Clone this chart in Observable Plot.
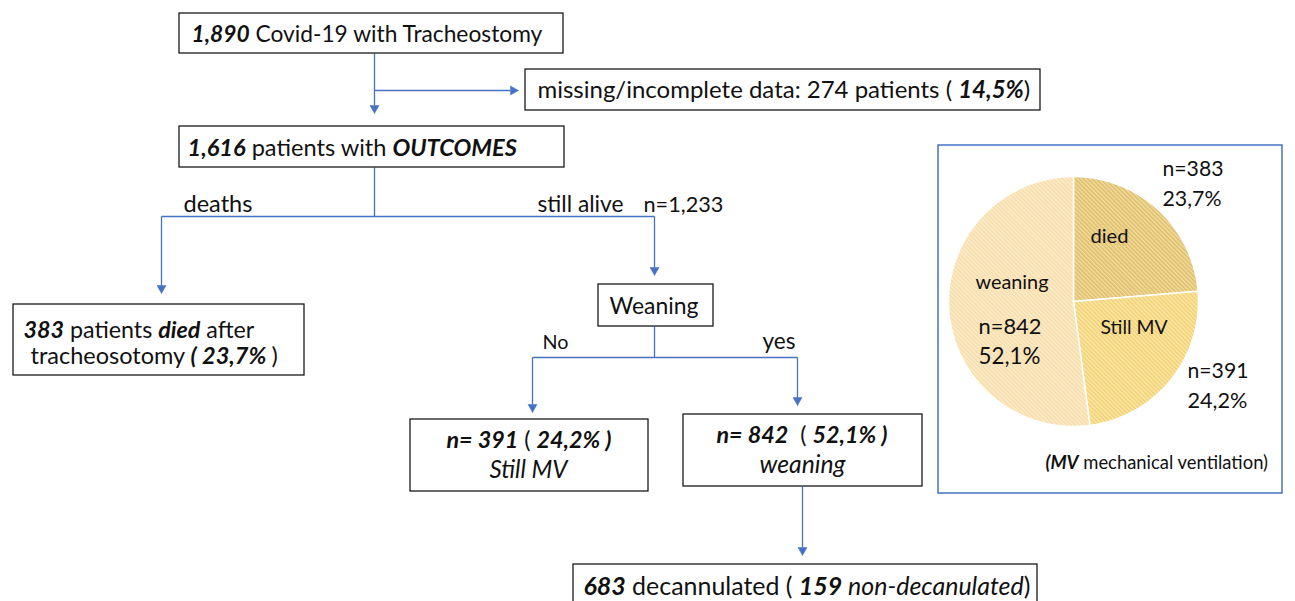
<!DOCTYPE html>
<html><head><meta charset="utf-8">
<script src="https://cdn.jsdelivr.net/npm/d3@7"></script>
<script src="https://cdn.jsdelivr.net/npm/@observablehq/plot@0.6"></script>
<style>html,body{margin:0;background:#fff}#chart svg{display:block}</style>
</head><body><div id="chart"></div>
<script>
// ---------------- DATA ----------------
const totalPatients = 1890;
const missingPatients = 274;
const missingPct = "14,5%";
const outcomePatients = 1616;
const deaths = 383;
const deathsPct = "23,7%";
const alivePatients = 1233;
const stillMV = 391;
const stillMVPct = "24,2%";
const weaned = 842;
const weanedPct = "52,1%";
const decannulated = 683;
const nonDecannulated = 159;

const pieCategories = ["died", "Still MV", "weaning"];
const pieValues = [deaths, stillMV, weaned];
const piePercents = [deathsPct, stillMVPct, weanedPct];

// ---------------- LAYOUT / STYLE ----------------
const W = 1295, H = 601;
const FONT = "Lato";
const BLUE = "#4472C4";
const pieColors = ["#e4c980", "#f6da88", "#fae5bd"];
const pieHatch = [["#f2dca0", "#dcbc66"], ["#fce8ae", "#f1cf6c"], ["#fdecca", "#f6dcaa"]];
const pie = {cx: 1073, cy: 301, r: 125};

const fmt = d3.format(",");

// text content (segments: [text, style]; b = bold, i = italic)
const textContent = {
  b1: [[fmt(totalPatients), "bi"], [" Covid-19 with Tracheostomy", ""]],
  b2: [[`missing/incomplete data: ${missingPatients} patients ( `, ""], [missingPct, "bi"], [")", ""]],
  b3: [[fmt(outcomePatients), "bi"], [" patients with ", ""], ["OUTCOMES", "bi"]],
  deaths: [["deaths", ""]],
  alive: [["still alive", ""]],
  aliveN: [[`n=${fmt(alivePatients)}`, ""]],
  b4a: [[String(deaths), "bi"], [" patients ", ""], ["died", "bi"], [" after", ""]],
  b4b: [["tracheosotomy ", ""], [`( ${deathsPct} `, "bi"], [")", ""]],
  weaning: [["Weaning", ""]],
  no: [["No", ""]],
  yes: [["yes", ""]],
  b5a: [[`n= ${stillMV}`, "bi"], [" ( ", ""], [`${stillMVPct} )`, "bi"]],
  b5b: [["Still MV", "i"]],
  b6a: [[`n= ${weaned}`, "bi"], ["  ( ", ""], [`${weanedPct} )`, "bi"]],
  b6b: [["weaning", "i"]],
  b7: [[String(decannulated), "bi"], [" decannulated ( ", ""], [String(nonDecannulated), "bi"], [" non-decanulated", "i"], [")", ""]],
  p0n: [[`n=${pieValues[0]}`, ""]], p0p: [[piePercents[0], ""]], p0c: [[pieCategories[0], ""]],
  p1n: [[`n=${pieValues[1]}`, ""]], p1p: [[piePercents[1], ""]], p1c: [[pieCategories[1], ""]],
  p2n: [[`n=${pieValues[2]}`, ""]], p2p: [[piePercents[2], ""]], p2c: [[pieCategories[2], ""]],
  cap: [["(MV", "bi"], [" mechanical ventilation)", ""]]
};
// [left x, baseline y, target width]
const textLayout = {
  b1: [191, 41, 352], b2: [537, 97, 493], b3: [187, 155, 330],
  deaths: [183, 211, 69], alive: [537, 211, 86], aliveN: [643, 211, 80],
  b4a: [23, 337, 231], b4b: [30, 363, 248],
  weaning: [609, 313, 89], no: [542, 348, 26], yes: [762, 348, 33],
  b5a: [446, 447, 165], b5b: [489, 477, 78],
  b6a: [716, 442, 171], b6b: [759, 472, 86],
  b7: [583, 594, 447],
  p0n: [1162, 175, 61], p0p: [1162, 205, 59], p0c: [1090, 242, 38],
  p1n: [1187, 377, 61], p1p: [1187, 407, 60], p1c: [1100, 333, 67],
  p2n: [978, 333, 63], p2p: [978, 363, 62], p2c: [975, 288, 73],
  cap: [1045, 468, 223]
};

const boxes = [
  {x1: 179, y1: 13, x2: 563, y2: 53},
  {x1: 525, y1: 69, x2: 1040, y2: 110},
  {x1: 179, y1: 126, x2: 564, y2: 167},
  {x1: 13, y1: 304, x2: 304, y2: 375},
  {x1: 598, y1: 284, x2: 713, y2: 326},
  {x1: 410, y1: 419, x2: 648, y2: 491},
  {x1: 683, y1: 414, x2: 922, y2: 486},
  {x1: 573, y1: 564, x2: 1037, y2: 612}
];
const frame = [{x1: 938, y1: 145, x2: 1282, y2: 493}];

const connectors = [
  {x1: 374, y1: 53, x2: 374, y2: 113, arrow: true},
  {x1: 374, y1: 90, x2: 518, y2: 90, arrow: true},
  {x1: 374, y1: 167, x2: 374, y2: 216, arrow: false},
  {x1: 161, y1: 216, x2: 654, y2: 216, arrow: false},
  {x1: 161, y1: 216, x2: 161, y2: 293, arrow: true},
  {x1: 654, y1: 216, x2: 654, y2: 275, arrow: true},
  {x1: 654, y1: 326, x2: 654, y2: 357, arrow: false},
  {x1: 532, y1: 357, x2: 797, y2: 357, arrow: false},
  {x1: 532, y1: 357, x2: 532, y2: 412, arrow: true},
  {x1: 797, y1: 357, x2: 797, y2: 405, arrow: true},
  {x1: 802, y1: 486, x2: 802, y2: 555, arrow: true}
];

// ---------------- DERIVED ----------------
const ctx = document.createElement("canvas").getContext("2d");
const segFont = (s, size) => `${s.includes("i") ? "italic " : ""}${s.includes("b") ? "bold " : ""}${size}px ${FONT}`;
const measure = (segs, size) => d3.sum(segs, ([t, s]) => { ctx.font = segFont(s, size); return ctx.measureText(t).width; });

const labels = Object.keys(textContent).map(id => {
  const segs = textContent[id];
  const [x, y, w] = textLayout[id];
  const size = 20 * w / measure(segs, 20);
  return {id, segs, x, y, size, text: segs.map(d => d[0]).join("")};
});

// pie slices as polygons from the data values (clockwise from 12 o'clock)
const total = d3.sum(pieValues);
const slices = [];
let acc = 0;
pieValues.forEach((v, i) => {
  const a0 = acc / total * 2 * Math.PI, a1 = (acc + v) / total * 2 * Math.PI;
  acc += v;
  const pts = [{x: pie.cx, y: pie.cy}];
  const n = Math.ceil((a1 - a0) / (Math.PI / 180));
  for (let k = 0; k <= n; k++) {
    const a = a0 + (a1 - a0) * k / n;
    pts.push({x: pie.cx + pie.r * Math.sin(a), y: pie.cy - pie.r * Math.cos(a)});
  }
  pts.push({x: pie.cx, y: pie.cy});
  slices.push(pts);
});

// arrow heads
const HEAD_L = 8, HEAD_W = 4.5;
const lines = connectors.map(c => {
  if (!c.arrow) return c;
  const dx = c.x2 - c.x1, dy = c.y2 - c.y1, L = Math.hypot(dx, dy);
  return {...c, x2: c.x2 - dx / L * HEAD_L, y2: c.y2 - dy / L * HEAD_L};
});
const heads = [];
connectors.filter(c => c.arrow).forEach((c, j) => {
  const dx = c.x2 - c.x1, dy = c.y2 - c.y1, L = Math.hypot(dx, dy);
  const ux = dx / L, uy = dy / L, bx = c.x2 - ux * HEAD_L, by = c.y2 - uy * HEAD_L;
  heads.push({id: j, x: c.x2, y: c.y2});
  heads.push({id: j, x: bx - uy * HEAD_W, y: by + ux * HEAD_W});
  heads.push({id: j, x: bx + uy * HEAD_W, y: by - ux * HEAD_W});
  heads.push({id: j, x: c.x2, y: c.y2});
});

// ---------------- PLOT ----------------
const chart = Plot.plot({
  width: W, height: H,
  margin: 0,
  x: {domain: [0, W], range: [0, W], axis: null},
  y: {domain: [0, H], range: [0, H], axis: null},
  style: {fontFamily: FONT, background: "white"},
  marks: [
    ...slices.map((pts, i) => Plot.line(pts, {x: "x", y: "y", fill: pieColors[i], stroke: "white", strokeWidth: 1.5, curve: "linear"})),
    Plot.rect(frame, {x1: "x1", y1: "y1", x2: "x2", y2: "y2", fill: "none", stroke: BLUE, strokeWidth: 1.5}),
    Plot.link(lines, {x1: "x1", y1: "y1", x2: "x2", y2: "y2", stroke: BLUE, strokeWidth: 1.3}),
    Plot.line(heads, {x: "x", y: "y", z: "id", fill: BLUE, stroke: BLUE, strokeWidth: 0.5}),
    Plot.rect(boxes, {x1: "x1", y1: "y1", x2: "x2", y2: "y2", fill: "white", stroke: "#1a1a1a", strokeWidth: 1.3}),
    Plot.text(labels, {x: "x", y: "y", text: "text", fontSize: "size", textAnchor: "start", lineAnchor: "bottom", fill: "#111", fontFamily: FONT})
  ]
});

// hatch patterns for pie slices
const NS = "http://www.w3.org/2000/svg";
const defs = document.createElementNS(NS, "defs");
pieHatch.forEach(([bg, fg], i) => {
  const p = document.createElementNS(NS, "pattern");
  p.setAttribute("id", "hatch" + i);
  p.setAttribute("patternUnits", "userSpaceOnUse");
  p.setAttribute("width", "3");
  p.setAttribute("height", "3");
  p.setAttribute("patternTransform", "rotate(-45)");
  const r = document.createElementNS(NS, "rect");
  r.setAttribute("width", "3"); r.setAttribute("height", "3"); r.setAttribute("fill", bg);
  const l = document.createElementNS(NS, "rect");
  l.setAttribute("width", "1.5"); l.setAttribute("height", "3"); l.setAttribute("fill", fg);
  p.appendChild(r); p.appendChild(l);
  defs.appendChild(p);
});
chart.insertBefore(defs, chart.firstChild);
pieColors.forEach((c, i) => {
  chart.querySelectorAll(`g[fill="${c}"]`).forEach(g => {
    g.setAttribute("fill", `url(#hatch${i})`);
    g.querySelectorAll("path").forEach(p => { if (p.getAttribute("fill")) p.setAttribute("fill", `url(#hatch${i})`); });
  });
});

// rich text: rebuild each label with styled tspans
const textEls = chart.querySelectorAll('g[aria-label="text"] text');
textEls.forEach((el, i) => {
  const d = labels[i];
  el.textContent = "";
  el.setAttribute("xml:space", "preserve");
  el.style.whiteSpace = "pre";
  d.segs.forEach(([t, s]) => {
    const ts = document.createElementNS(NS, "tspan");
    if (s.includes("b")) ts.setAttribute("font-weight", "bold");
    if (s.includes("i")) ts.setAttribute("font-style", "italic");
    ts.textContent = t;
    el.appendChild(ts);
  });
});

document.getElementById("chart").appendChild(chart);
</script></body></html>
